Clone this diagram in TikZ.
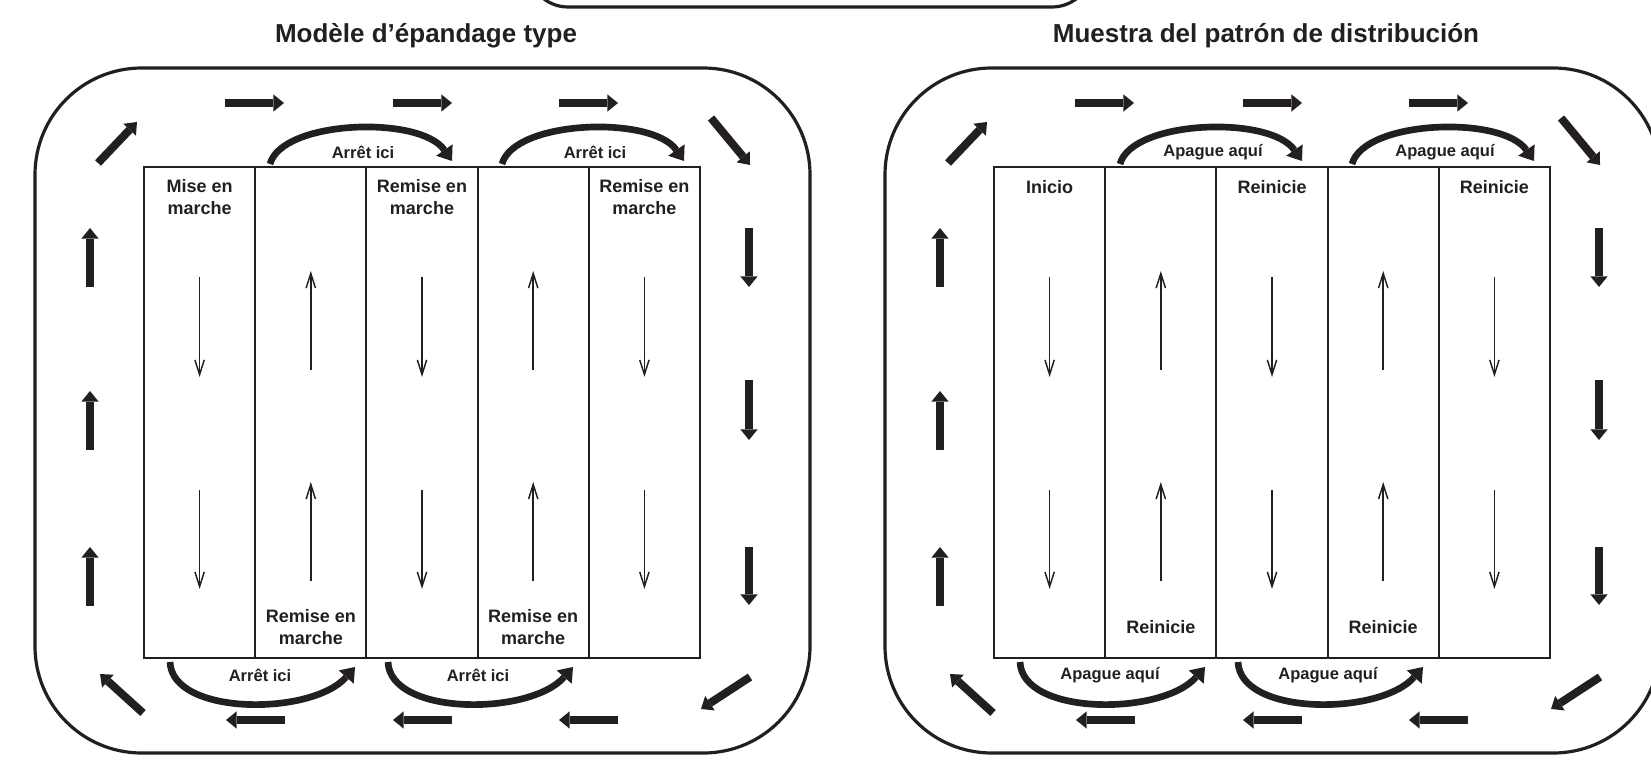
\documentclass[tikz,border=0pt]{standalone}
\usepackage{fontspec}
\setmainfont{Liberation Sans}
\usetikzlibrary{arrows.meta}
\definecolor{ink}{HTML}{231F20}
\tikzset{
  outerbox/.style={draw=ink, line width=2.4pt, rounded corners=80pt},
  topbar/.style={draw=ink, line width=2.4pt, rounded corners=30pt},
  gridline/.style={draw=ink, line width=1.4pt},
  thinarrow/.style={draw=ink, line width=1.1pt, -{Straight Barb[length=11pt,width=7pt,line width=1.1pt]}},
  fatarrow/.style={draw=ink, line width=6pt, -{Triangle[length=8pt,width=13pt,line width=0pt]}},
  arcarrow/.style={draw=ink, line width=5pt, -{Triangle[length=10pt,width=15pt,line width=0pt]}},
  collabel/.style={font=\bfseries\fontsize{13.5}{16}\selectfont, text=ink, align=center, inner sep=0pt},
  arclabel/.style={font=\bfseries\fontsize{12.4}{14}\selectfont, text=ink, inner sep=0pt},
  titlelabel/.style={font=\bfseries\fontsize{19.5}{23}\selectfont, text=ink, inner sep=0pt}
}
% #1 x shift, #2 first top label, #3 restart label (top), #4 restart label (bottom), #5 arc label, #6 y of top labels, #7 name prefix
\newcommand\drawpanel[7]{%
\begin{scope}[shift={(#1,0)}, name prefix=#7-]
  \draw[outerbox] (35,68) rectangle (810,753);
  % grid
  \draw[gridline] (144,167) rectangle (700,658);
  \foreach \gx in {255.2,366.4,477.6,588.8} \draw[gridline] (\gx,167) -- (\gx,658);
  % thin arrows
  \foreach \cx in {199.6,422,644.4} {
    \draw[thinarrow] (\cx,277) -- (\cx,377);
    \draw[thinarrow] (\cx,490) -- (\cx,589);
  }
  \foreach \cx in {310.8,533.2} {
    \draw[thinarrow] (\cx,370) -- (\cx,271);
    \draw[thinarrow] (\cx,581) -- (\cx,482);
  }
  % labels in columns
  \node[collabel] (c1) at (199.6,#6) {#2};
  \node[collabel] (c3) at (422,#6) {#3};
  \node[collabel] (c5) at (644.4,#6) {#3};
  \node[collabel] (c2) at (310.8,627) {#4};
  \node[collabel] (c4) at (533.2,627) {#4};
  % top arcs
  \draw[arcarrow] (270,164) .. controls (282,120) and (420,115) .. (452,161);
  \node[arclabel] (a1) at (363,152) {#5};
  \draw[arcarrow] (502,164) .. controls (514,120) and (652,115) .. (684,161);
  \node[arclabel] (a2) at (595,152) {#5};
  % bottom arcs
  \draw[arcarrow] (170,662) .. controls (172,716) and (312,716) .. (355,667);
  \node[arclabel] (a3) at (260,675) {#5};
  \draw[arcarrow] (388,662) .. controls (390,716) and (530,716) .. (573,667);
  \node[arclabel] (a4) at (478,675) {#5};
  % outer circulation arrows
  \draw[fatarrow] (225,103) -- (284,103);
  \draw[fatarrow] (393,103) -- (452,103);
  \draw[fatarrow] (559,103) -- (618,103);
  \draw[fatarrow] (285,720) -- (226,720);
  \draw[fatarrow] (452,720) -- (393,720);
  \draw[fatarrow] (618,720) -- (559,720);
  \draw[fatarrow] (98,163) -- (137,122);
  \draw[fatarrow] (711,118) -- (750,165);
  \draw[fatarrow] (143,713) -- (100,674);
  \draw[fatarrow] (750,677) -- (701,709);
  \draw[fatarrow] (90,287) -- (90,228);
  \draw[fatarrow] (90,450) -- (90,391);
  \draw[fatarrow] (90,606) -- (90,547);
  \draw[fatarrow] (749,228) -- (749,287);
  \draw[fatarrow] (749,380) -- (749,440);
  \draw[fatarrow] (749,547) -- (749,605);
\end{scope}}
\begin{document}
\begin{tikzpicture}[x=0.75pt,y=-0.75pt]
  \useasboundingbox (0,0) rectangle (1651,766);
  \clip (0,0) rectangle (1651,766);
  \draw[topbar] (528,-120) rectangle (1092,7);
  \node[titlelabel] (t1) at (426,36) {Modèle d’épandage type};
  \node[titlelabel] (t2) at (1266,36) {Muestra del patrón de distribución};
  \drawpanel{0}{Mise en\\marche}{Remise en\\marche}{Remise en\\marche}{Arrêt ici}{197}{L}
  \drawpanel{850}{Inicio}{Reinicie}{Reinicie}{Apague aquí}{187}{R}
\end{tikzpicture}
\end{document}
